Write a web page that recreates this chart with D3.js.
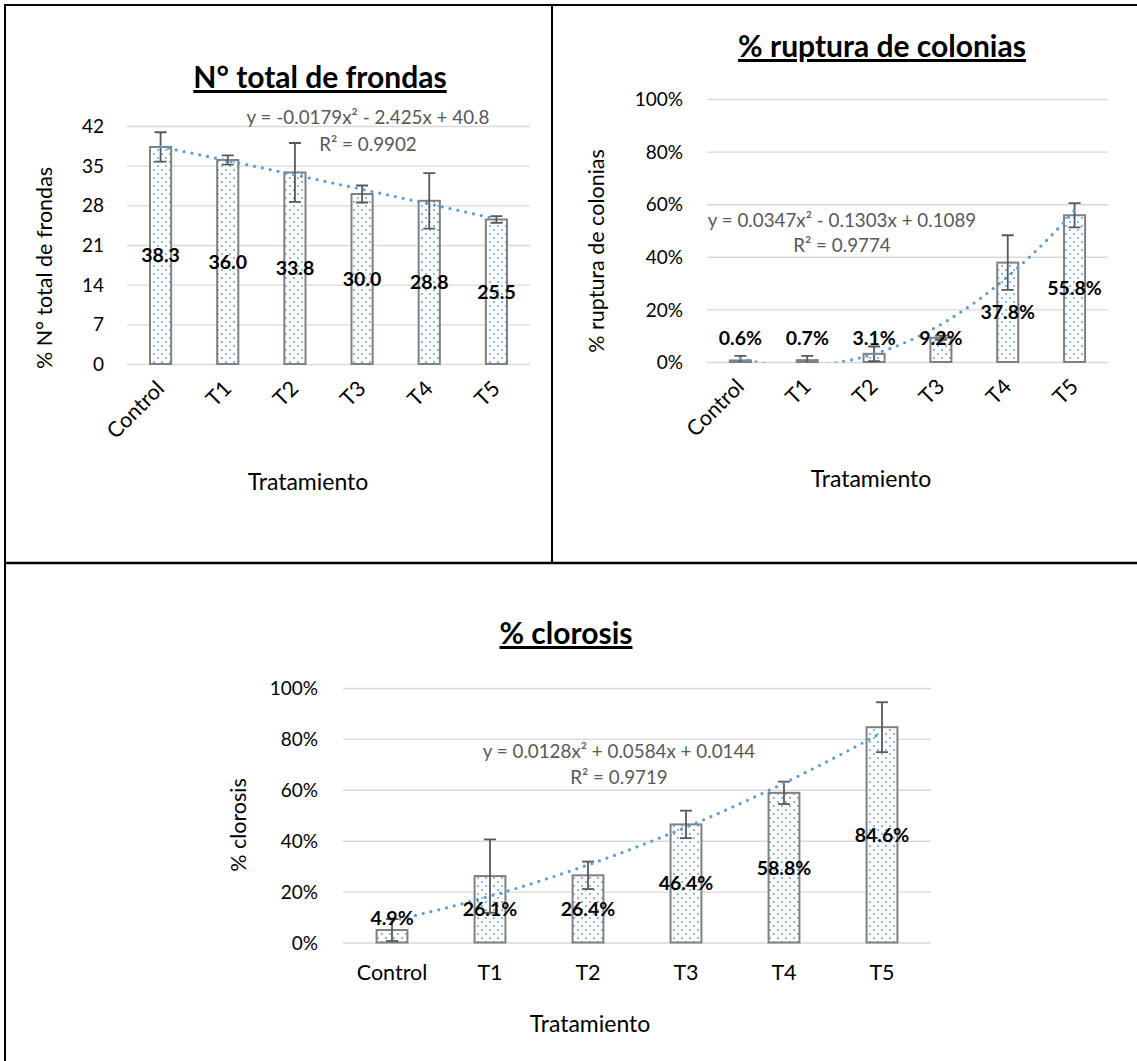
<!DOCTYPE html>
<html>
<head>
<meta charset="utf-8">
<script src="https://cdn.jsdelivr.net/npm/d3@7"></script>
<style>
  html, body { margin: 0; padding: 0; background: #ffffff; }
  svg { display: block; }
  text { font-family: Lato, "Open Sans", sans-serif; }
</style>
</head>
<body>
<div id="chart"></div>
<script>
// ---------------- DATA ----------------
const categories = ["Control", "T1", "T2", "T3", "T4", "T5"];

const frondasValues = [38.3, 36.0, 33.8, 30.0, 28.8, 25.5];
const frondasErrors = [2.6, 0.8, 5.2, 1.5, 4.9, 0.6];
const frondasTicks = [0, 7, 14, 21, 28, 35, 42];
const frondasFit = [-0.0179, -2.425, 40.8];          // a, b, c  (y = a x² + b x + c)
const frondasEquation = ["y = -0.0179x² - 2.425x + 40.8", "R² = 0.9902"];

const rupturaValues = [0.006, 0.007, 0.031, 0.092, 0.378, 0.558];
const rupturaErrors = [0.017, 0.016, 0.028, 0.008, 0.104, 0.046];
const rupturaFit = [0.0347, -0.1303, 0.1089];
const rupturaEquation = ["y = 0.0347x² - 0.1303x + 0.1089", "R² = 0.9774"];

const clorosisValues = [0.049, 0.261, 0.264, 0.464, 0.588, 0.846];
const clorosisErrors = [0.043, 0.144, 0.054, 0.054, 0.044, 0.098];
const clorosisFit = [0.0128, 0.0584, 0.0144];
const clorosisEquation = ["y = 0.0128x² + 0.0584x + 0.0144", "R² = 0.9719"];

const percentTicks = [0, 0.2, 0.4, 0.6, 0.8, 1.0];

// ---------------- STYLE ----------------
const W = 1137, H = 1061;
const BLUE = "#5B9BD5";
const GRID = "#D9D9D9";
const BAR_STROKE = "#808080";
const ERR = "#595959";
const EQ = "#595959";
const TXT = "#000000";

const svg = d3.select("#chart").append("svg")
  .attr("width", W).attr("height", H)
  .attr("viewBox", `0 0 ${W} ${H}`);

svg.append("rect").attr("width", W).attr("height", H).attr("fill", "#fff");

const defs = svg.append("defs");
const pat = defs.append("pattern").attr("id", "dots")
  .attr("width", 8).attr("height", 8).attr("patternUnits", "userSpaceOnUse");
pat.append("rect").attr("width", 8).attr("height", 8).attr("fill", "#fff");
pat.append("circle").attr("cx", 2).attr("cy", 2).attr("r", 0.95).attr("fill", BLUE);
pat.append("circle").attr("cx", 6).attr("cy", 6).attr("r", 0.95).attr("fill", BLUE);

// ---------------- FRAME ----------------
const frame = svg.append("g").attr("stroke", "#000").attr("fill", "none");
frame.append("line").attr("x1", 4).attr("x2", W).attr("y1", 5).attr("y2", 5).attr("stroke-width", 2.2);
frame.append("line").attr("x1", 5).attr("x2", 5).attr("y1", 4).attr("y2", H).attr("stroke-width", 2);
frame.append("line").attr("x1", 552).attr("x2", 552).attr("y1", 4).attr("y2", 563).attr("stroke-width", 2);
frame.append("line").attr("x1", 4).attr("x2", W).attr("y1", 563).attr("y2", 563).attr("stroke-width", 2.5);

// ---------------- CHART FUNCTION ----------------
let clipId = 0;
function drawChart(cfg) {
  const g = svg.append("g");
  const x = d3.scaleBand().domain(categories).range([cfg.x0, cfg.x1]).paddingInner(0).paddingOuter(0);
  const y = d3.scaleLinear().domain([0, cfg.max]).range([cfg.yBase, cfg.yTop]);
  const xIdx = d3.scaleLinear().domain([1, categories.length])
    .range([x(categories[0]) + x.bandwidth() / 2, x(categories[categories.length - 1]) + x.bandwidth() / 2]);
  const bw = x.bandwidth() * 0.315;

  const cid = "clip" + (clipId++);
  defs.append("clipPath").attr("id", cid).append("rect")
    .attr("x", cfg.x0).attr("y", cfg.yTop - 1)
    .attr("width", cfg.x1 - cfg.x0).attr("height", cfg.yBase - cfg.yTop + 1.5);

  // y axis + gridlines
  const yAxis = g.append("g").attr("transform", `translate(${cfg.x0},0)`)
    .call(d3.axisLeft(y).tickValues(cfg.ticks).tickFormat(cfg.tickFmt)
      .tickSize(-(cfg.x1 - cfg.x0)).tickPadding(cfg.tickPad));
  yAxis.select(".domain").remove();
  yAxis.selectAll(".tick line").attr("stroke", GRID).attr("stroke-width", 1.4);
  yAxis.selectAll(".tick text").attr("fill", TXT).attr("font-size", cfg.tickFont)
    .attr("font-family", "Lato").attr("dy", "0.35em");

  // x axis labels
  const xAxis = g.append("g").attr("transform", `translate(0,${cfg.yBase})`)
    .call(d3.axisBottom(x).tickSize(0).tickPadding(cfg.xPad));
  xAxis.select(".domain").remove();
  const xt = xAxis.selectAll(".tick text").attr("fill", TXT).attr("font-size", cfg.catFont)
    .attr("font-family", "Lato");
  if (cfg.rotate) {
    xt.attr("x", 0).attr("y", 0).attr("dy", 0).attr("text-anchor", "end")
      .attr("transform", `translate(${cfg.rotDx},${cfg.rotDy}) rotate(-45)`);
  }

  const data = categories.map((c, i) => ({ c, v: cfg.values[i], e: cfg.errors[i], i }));

  // bars
  g.append("g").selectAll("rect").data(data).join("rect")
    .attr("x", d => x(d.c) + x.bandwidth() / 2 - bw / 2)
    .attr("y", d => y(d.v))
    .attr("width", bw)
    .attr("height", d => y(0) - y(d.v))
    .attr("fill", "url(#dots)")
    .attr("stroke", BAR_STROKE).attr("stroke-width", 2);

  // error bars
  const eg = g.append("g").attr("clip-path", `url(#${cid})`)
    .attr("stroke", ERR).attr("stroke-width", 1.8).attr("fill", "none");
  const capW = 6;
  data.forEach(d => {
    const cx = x(d.c) + x.bandwidth() / 2;
    const yt = y(d.v + d.e), yb = y(Math.max(d.v - d.e, -0.5 * cfg.max));
    eg.append("line").attr("x1", cx).attr("x2", cx).attr("y1", yt).attr("y2", yb);
    eg.append("line").attr("x1", cx - capW).attr("x2", cx + capW).attr("y1", yt).attr("y2", yt);
    eg.append("line").attr("x1", cx - capW).attr("x2", cx + capW).attr("y1", yb).attr("y2", yb);
  });

  // trendline (polynomial order 2, from displayed equation)
  const [a, b, c] = cfg.fit;
  const ts = d3.range(1, categories.length + 0.0001, 0.05);
  g.append("path").attr("clip-path", `url(#${cid})`)
    .datum(ts)
    .attr("d", d3.line().x(t => xIdx(t)).y(t => y(a * t * t + b * t + c)))
    .attr("fill", "none").attr("stroke", BLUE).attr("stroke-width", 3.2)
    .attr("stroke-linecap", "round").attr("stroke-dasharray", "0 8");

  // data labels
  g.append("g").selectAll("text").data(data).join("text")
    .attr("x", d => x(d.c) + x.bandwidth() / 2)
    .attr("y", d => Math.min(y(d.v / 2), y(0) - 24))
    .attr("dy", "0.35em")
    .attr("text-anchor", "middle")
    .attr("font-weight", "bold").attr("font-size", cfg.labelFont).attr("fill", TXT)
    .text(d => cfg.labelFmt(d.v));

  // equation
  const eq = g.append("g").attr("fill", EQ).attr("font-size", cfg.eqFont).attr("text-anchor", "middle");
  cfg.equation.forEach((line, k) => {
    eq.append("text").attr("x", cfg.eqX).attr("y", cfg.eqY[k]).text(line);
  });

  // title
  g.append("text").attr("x", cfg.titleX).attr("y", cfg.titleY)
    .attr("text-anchor", "middle").attr("font-weight", "bold")
    .attr("font-size", cfg.titleFont).style("text-decoration", "underline")
    .attr("fill", TXT).text(cfg.title);

  // axis titles
  g.append("text").attr("transform", `translate(${cfg.yTitleX},${cfg.yTitleY}) rotate(-90)`)
    .attr("text-anchor", "middle").attr("dy", "0.35em").attr("font-size", cfg.yTitleFont)
    .attr("fill", TXT).text(cfg.yTitle);
  g.append("text").attr("x", cfg.xTitleX).attr("y", cfg.xTitleY)
    .attr("text-anchor", "middle").attr("font-size", cfg.xTitleFont)
    .attr("fill", TXT).text("Tratamiento");
}

const fmtPct = d3.format(".0%");
const fmtPct1 = d3.format(".1%");

const common = {
  tickFont: 19, catFont: 21.5, labelFont: 19.5, eqFont: 18.8,
  titleFont: 30, yTitleFont: 21.5, xTitleFont: 23
};

drawChart(Object.assign({}, common, {
  values: frondasValues, errors: frondasErrors, fit: frondasFit, equation: frondasEquation,
  ticks: frondasTicks, max: 42, tickFmt: d3.format("d"), labelFmt: d3.format(".1f"),
  x0: 127, x1: 530, yBase: 364, yTop: 126,
  tickPad: 23, xPad: 0, rotate: true, rotDx: 5, rotDy: 26,
  eqX: 368, eqY: [124, 151],
  title: "N° total de frondas", titleX: 320, titleY: 88,
  yTitle: "% N° total de frondas", yTitleX: 44, yTitleY: 268,
  xTitleX: 308, xTitleY: 490
}));

drawChart(Object.assign({}, common, {
  values: rupturaValues, errors: rupturaErrors, fit: rupturaFit, equation: rupturaEquation,
  ticks: percentTicks, max: 1, tickFmt: fmtPct, labelFmt: fmtPct1,
  x0: 707, x1: 1108, yBase: 362, yTop: 99,
  tickPad: 24, xPad: 0, rotate: true, rotDx: 5, rotDy: 26,
  eqX: 842, eqY: [227, 252],
  title: "% ruptura de colonias", titleX: 882, titleY: 57,
  yTitle: "% ruptura de colonias", yTitleX: 596, yTitleY: 251,
  xTitleX: 871, xTitleY: 487
}));

drawChart(Object.assign({}, common, {
  values: clorosisValues, errors: clorosisErrors, fit: clorosisFit, equation: clorosisEquation,
  ticks: percentTicks, max: 1, tickFmt: fmtPct, labelFmt: fmtPct1,
  x0: 343, x1: 931, yBase: 942.5, yTop: 688,
  tickPad: 25, xPad: 22, rotate: false,
  eqX: 619, eqY: [758, 784],
  title: "% clorosis", titleX: 566, titleY: 644,
  yTitle: "% clorosis", yTitleX: 238, yTitleY: 825,
  xTitleX: 590, xTitleY: 1032
}));
</script>
</body>
</html>
